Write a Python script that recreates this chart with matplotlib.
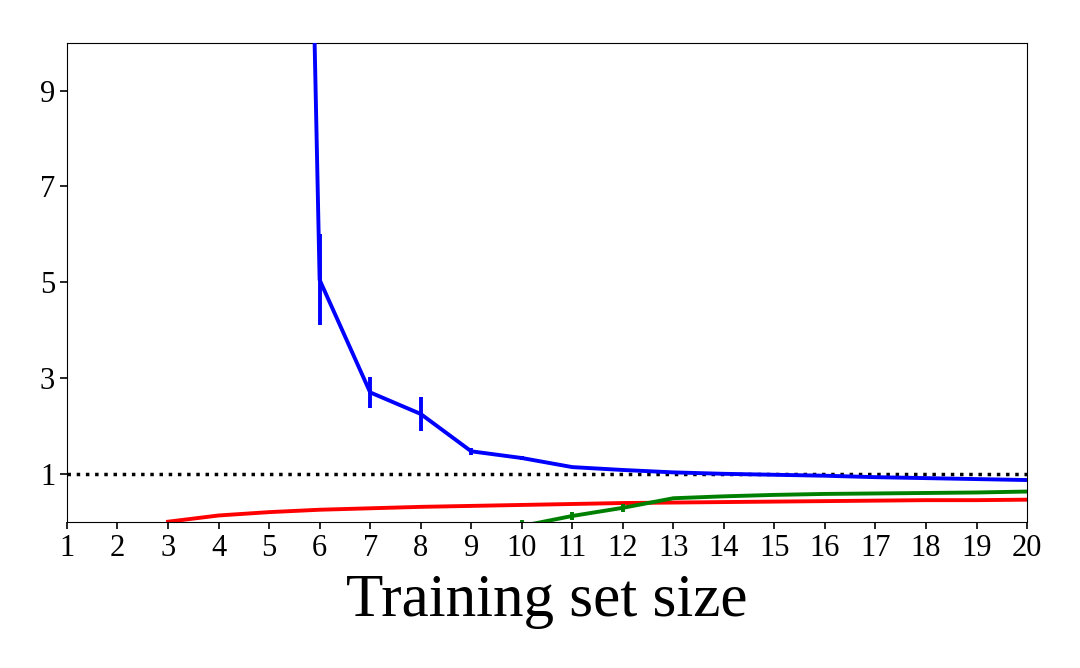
import matplotlib
matplotlib.use("Agg")
import matplotlib.pyplot as plt

plt.rcParams["font.family"] = ["Liberation Serif", "DejaVu Serif"]

# Training set sizes
blue_x = [5, 6, 7, 8, 9, 10, 11, 12, 13, 14, 15, 16, 17, 18, 19, 20]
blue_y = [55.0, 5.05, 2.70, 2.25, 1.47, 1.33, 1.14, 1.08, 1.03, 1.00, 0.98,
          0.96, 0.93, 0.91, 0.89, 0.87]
blue_err = [0.0, 0.95, 0.33, 0.36, 0.07, 0.05, 0.02, 0.01, 0.01, 0.01, 0.01,
            0.01, 0.01, 0.01, 0.01, 0.01]

red_x = [3, 4, 5, 6, 7, 8, 9, 10, 11, 12, 13, 14, 15, 16, 17, 18, 19, 20]
red_y = [0.0, 0.13, 0.20, 0.25, 0.28, 0.31, 0.33, 0.35, 0.37, 0.39, 0.40,
         0.41, 0.42, 0.43, 0.44, 0.45, 0.45, 0.46]

green_x = [10, 11, 12, 13, 14, 15, 16, 17, 18, 19, 20]
green_y = [-0.09, 0.12, 0.29, 0.49, 0.53, 0.56, 0.58, 0.59, 0.60, 0.61, 0.63]
green_err = [0.12, 0.09, 0.08, 0.01, 0.01, 0.01, 0.01, 0.01, 0.01, 0.01, 0.01]

fig = plt.figure(figsize=(10.8, 6.68), dpi=100)
ax = fig.add_axes([0.062, 0.219, 0.889, 0.717])

ax.axhline(1, color="black", linestyle=":", linewidth=2.5, zorder=1)
ax.errorbar(red_x, red_y, color="red", linewidth=2.8, zorder=2)
ax.errorbar(green_x, green_y, yerr=green_err, color="green", linewidth=2.8,
            elinewidth=2.8, capsize=0, zorder=3)
ax.errorbar(blue_x, blue_y, yerr=blue_err, color="blue", linewidth=2.8,
            elinewidth=2.8, capsize=0, zorder=4)

ax.set_xlim(1, 20)
ax.set_ylim(0, 10)
ax.set_xticks(range(1, 21))
ax.set_yticks([1, 3, 5, 7, 9])
ax.tick_params(labelsize=22, length=5, width=1.2)
ax.set_xlabel("Training set size", fontsize=44, labelpad=8)

fig.savefig("out.png", dpi=100)
